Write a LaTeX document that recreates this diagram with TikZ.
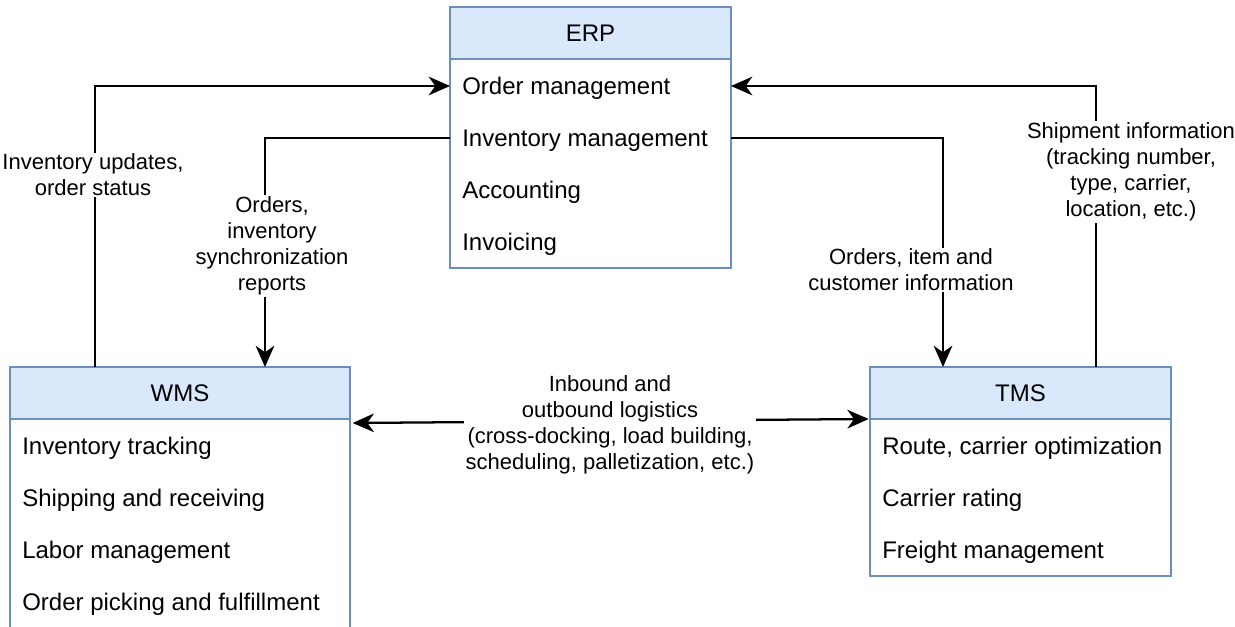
\documentclass[tikz,border=0pt]{standalone}
\usepackage{fontspec}
\setmainfont{Liberation Sans}
\usetikzlibrary{arrows.meta,calc}
\definecolor{hdrfill}{HTML}{DAE8FC}
\definecolor{hdrline}{HTML}{6C8EBF}

\begin{document}
\begin{tikzpicture}[x=0.75pt,y=-0.75pt,
  box/.style={draw=hdrline, line width=0.9pt, anchor=north west,
    inner sep=0pt, outer sep=0pt},
  hdr/.style={box, fill=hdrfill, font=\fontsize{18}{20}\selectfont,
    minimum height=39pt},
  item/.style={anchor=west, inner sep=0pt, text height=12.9pt,
    text depth=0pt, font=\fontsize{18}{20}\selectfont},
  lbl/.style={fill=white, align=center, inner sep=1pt,
    font=\fontsize{16.5}{19.5}\selectfont},
  arr/.style={line width=1.7pt,
    -{Stealth[length=16pt,width=14pt,inset=5pt]}},
  biarr/.style={line width=1.7pt,
    {Stealth[length=16pt,width=14pt,inset=5pt]}-{Stealth[length=16pt,width=14pt,inset=5pt]}}]

\useasboundingbox (0,0) rectangle (1235,627);
\clip (0,0) rectangle (1235,627);

% ERP
\node[box, minimum width=210.75pt, minimum height=156.75pt] (erp) at (450,59) {};
\node[hdr, minimum width=210.75pt] (erpH) at (450,7) {ERP};
\node[item] (erp1) at (462,86)  {Order management};
\node[item] (erp2) at (462,138) {Inventory management};
\node[item] (erp3) at (462,190) {Accounting};
\node[item] (erp4) at (462,242) {Invoicing};

% WMS (runs off the lower edge)
\node[box, minimum width=255pt, minimum height=180pt] (wms) at (10,419) {};
\node[hdr, minimum width=255pt] (wmsH) at (10,367) {WMS};
\node[item] (wms1) at (22,446) {Inventory tracking};
\node[item] (wms2) at (22,498) {Shipping and receiving};
\node[item] (wms3) at (22,550) {Labor management};
\node[item] (wms4) at (22,602) {Order picking and fulfillment};

% TMS
\node[box, minimum width=225.75pt, minimum height=117.75pt] (tms) at (870,419) {};
\node[hdr, minimum width=225.75pt] (tmsH) at (870,367) {TMS};
\node[item] (tms1) at (882,446) {Route, carrier optimization};
\node[item] (tms2) at (882,498) {Carrier rating};
\node[item] (tms3) at (882,550) {Freight management};

% connectors
\draw[arr] ([xshift=63.75pt]wmsH.north west) |- (erp1 -| erp.west);
\draw[arr] (erp2 -| erp.west) -| ([xshift=191.25pt]wmsH.north west);
\draw[arr] (erp2 -| erp.east) -| ([xshift=54.75pt]tmsH.north west);
\draw[arr] ([xshift=169.5pt]tmsH.north west) |- (erp1 -| erp.east);
\draw[biarr] ([xshift=2pt,yshift=-3pt]wmsH.south east) -- ([xshift=-1pt]tmsH.south west);

% connector labels
\node[lbl] (l1) at (93,175)   {Inventory updates,\\order status};
\node[lbl] (l2) at (272,246)  {Orders,\\inventory\\synchronization\\reports};
\node[lbl] (l3) at (911,270)  {Orders, item and\\customer information};
\node[lbl] (l4) at (1131,172) {Shipment information\\(tracking number,\\type, carrier,\\location, etc.)};
\node[lbl] (l5) at (610,425)  {Inbound and\\outbound logistics\\(cross-docking, load building,\\scheduling, palletization, etc.)};
\end{tikzpicture}
\end{document}
